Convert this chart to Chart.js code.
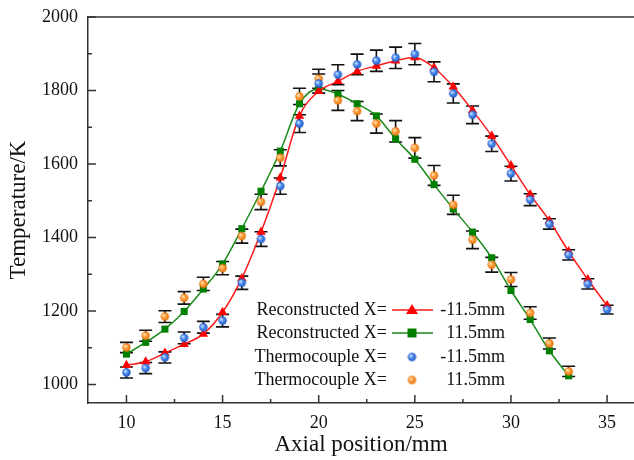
<!DOCTYPE html>
<html>
<head>
<meta charset="utf-8">
<script src="https://cdn.jsdelivr.net/npm/chart.js@4/dist/chart.umd.min.js"></script>
<style>
  html, body { margin: 0; padding: 0; background: #fff; }
  #wrap { width: 634px; height: 460px; }
</style>
</head>
<body>
<div id="wrap"><canvas id="c" width="634" height="460"></canvas></div>
<script>
// ---- data ----
const posMinus = [10,11,12,13,14,15,16,17,18,19,20,21,22,23,24,25,26,27,28,29,30,31,32,33,34,35];
const posPlus  = [10,11,12,13,14,15,16,17,18,19,20,21,22,23,24,25,26,27,28,29,30,31,32,33];
const reconMinus = [1053,1062,1086,1110,1138,1197,1289,1415,1563,1731,1798,1825,1852,1867,1881,1890,1862,1810,1746,1676,1596,1517,1446,1362,1286,1215];
const reconPlus  = [1083,1115,1151,1199,1260,1328,1424,1526,1635,1764,1805,1790,1764,1731,1669,1613,1544,1478,1415,1345,1256,1177,1092,1024];
const thermoMinus = [1033,1045,1074,1127,1156,1174,1277,1396,1540,1710,1819,1843,1871,1881,1889,1899,1851,1792,1734,1655,1574,1503,1437,1353,1274,1204];
const thermoPlus  = [1101,1133,1185,1236,1274,1317,1404,1497,1617,1784,1832,1773,1744,1710,1689,1644,1569,1489,1394,1326,1286,1195,1112,1036];
const errMinus = [15,15,15,16,16,17,18,20,22,24,26,27,28,29,29,29,27,26,24,21,20,16,14,14,14,12];
const errPlus  = [14,15,16,17,18,18,19,21,22,22,26,27,26,26,29,28,27,26,24,20,19,17,15,14];
const xMajorTicks = [10,15,20,25,30,35];
const xMinorTicks = [12.5,17.5,22.5,27.5,32.5];
const yMajorTicks = [1000,1200,1400,1600,1800,2000];
const yMinorTicks = [1100,1300,1500,1700,1900];
const legendNames = ['Reconstructed X=','Reconstructed X=','Thermocouple X=','Thermocouple X='];
const legendValues = ['-11.5mm','11.5mm','-11.5mm','11.5mm'];
const xTitle = 'Axial position/mm';
const yTitle = 'Temperature/K';

const FONT = '"Liberation Serif", "Times New Roman", serif';

function sphere(light, mid, dark, r) {
  const c = document.createElement('canvas');
  const s = Math.ceil(r * 2) + 2;
  c.width = s; c.height = s;
  const g = c.getContext('2d');
  const cx = s / 2, cy = s / 2;
  const grad = g.createRadialGradient(cx - r * 0.35, cy - r * 0.35, r * 0.1, cx, cy, r);
  grad.addColorStop(0, light);
  grad.addColorStop(0.45, mid);
  grad.addColorStop(1, dark);
  g.fillStyle = grad;
  g.beginPath(); g.arc(cx, cy, r, 0, Math.PI * 2); g.fill();
  return c;
}
const blueBall = sphere('#cfe3ff', '#4d8ef0', '#1f55c0', 4.2);
const orangeBall = sphere('#ffe3bf', '#ff9f3a', '#e0700a', 4.2);

const toPts = (xs, ys) => xs.map((x, i) => ({ x: x, y: ys[i] }));

const errorBars = {
  id: 'errorBars',
  beforeDatasetsDraw(chart) {
    const { ctx, scales: { x, y } } = chart;
    ctx.save();
    ctx.strokeStyle = '#111';
    ctx.lineWidth = 1.6;
    const draw = (xs, ys, es) => {
      xs.forEach((xv, i) => {
        const px = x.getPixelForValue(xv);
        const top = y.getPixelForValue(ys[i] + es[i]);
        const bot = y.getPixelForValue(ys[i] - es[i]);
        ctx.beginPath();
        ctx.moveTo(px, top); ctx.lineTo(px, bot);
        ctx.moveTo(px - 6.5, top); ctx.lineTo(px + 6.5, top);
        ctx.moveTo(px - 6.5, bot); ctx.lineTo(px + 6.5, bot);
        ctx.stroke();
      });
    };
    draw(posMinus, thermoMinus, errMinus);
    draw(posPlus, thermoPlus, errPlus);
    ctx.restore();
  }
};

const frame = {
  id: 'frame',
  afterDraw(chart) {
    const { ctx, chartArea: a, scales: { x, y } } = chart;
    ctx.save();
    ctx.strokeStyle = '#333';
    ctx.lineWidth = 1.5;
    ctx.beginPath();
    ctx.moveTo(a.left, a.top); ctx.lineTo(a.right, a.top);
    ctx.stroke();
    ctx.beginPath();
    xMajorTicks.forEach(v => { const p = x.getPixelForValue(v); ctx.moveTo(p, a.bottom); ctx.lineTo(p, a.bottom - 8); });
    xMinorTicks.forEach(v => { const p = x.getPixelForValue(v); ctx.moveTo(p, a.bottom); ctx.lineTo(p, a.bottom - 4); });
    yMajorTicks.forEach(v => { const p = y.getPixelForValue(v); ctx.moveTo(a.left, p); ctx.lineTo(a.left + 8, p); });
    yMinorTicks.forEach(v => { const p = y.getPixelForValue(v); ctx.moveTo(a.left, p); ctx.lineTo(a.left + 4, p); });
    ctx.stroke();

    // legend
    const rows = [310, 333, 357, 380];
    ctx.font = '18px ' + FONT;
    ctx.fillStyle = '#111';
    ctx.textBaseline = 'middle';
    rows.forEach((ry, i) => {
      ctx.textAlign = 'right';
      ctx.fillText(legendNames[i], 387, ry);
      ctx.fillText(legendValues[i], 505, ry);
      if (i < 2) {
        ctx.strokeStyle = i === 0 ? '#ff1a1a' : '#1a8a1a';
        ctx.lineWidth = 1.5;
        ctx.beginPath(); ctx.moveTo(392, ry); ctx.lineTo(433, ry); ctx.stroke();
        ctx.fillStyle = i === 0 ? '#ff0000' : '#008000';
        ctx.beginPath();
        if (i === 0) {
          ctx.moveTo(412, ry - 6); ctx.lineTo(418, ry + 4); ctx.lineTo(406, ry + 4); ctx.closePath();
        } else {
          ctx.rect(407.5, ry - 4.5, 9, 9);
        }
        ctx.fill();
        ctx.fillStyle = '#111';
      } else {
        const img = i === 2 ? blueBall : orangeBall;
        ctx.drawImage(img, 412 - img.width / 2, ry - img.height / 2);
      }
    });
    ctx.restore();
  }
};

new Chart(document.getElementById('c'), {
  type: 'line',
  data: {
    datasets: [
      {
        label: 'Reconstructed X= -11.5mm',
        data: toPts(posMinus, reconMinus),
        borderColor: '#ff1a1a', backgroundColor: '#ff0000',
        borderWidth: 1.5, pointStyle: 'triangle', pointRadius: 5.5, pointBorderWidth: 0,
        cubicInterpolationMode: 'monotone', order: 2
      },
      {
        label: 'Reconstructed X= 11.5mm',
        data: toPts(posPlus, reconPlus),
        borderColor: '#1a8a1a', backgroundColor: '#008000',
        borderWidth: 1.5, pointStyle: 'rect', pointRadius: 5, pointBorderWidth: 0,
        cubicInterpolationMode: 'monotone', order: 3
      },
      {
        label: 'Thermocouple X= -11.5mm',
        data: toPts(posMinus, thermoMinus),
        showLine: false, pointStyle: blueBall, pointRadius: 4, order: 1
      },
      {
        label: 'Thermocouple X= 11.5mm',
        data: toPts(posPlus, thermoPlus),
        showLine: false, pointStyle: orangeBall, pointRadius: 4, order: 1
      }
    ]
  },
  options: {
    responsive: false,
    animation: false,
    devicePixelRatio: 1,
    layout: { autoPadding: false, padding: { top: 17, right: 0, left: 0, bottom: 0 } },
    plugins: { legend: { display: false }, tooltip: { enabled: false } },
    scales: {
      x: {
        type: 'linear', min: 8, max: 36.4,
        afterBuildTicks: s => { s.ticks = xMajorTicks.map(v => ({ value: v })); },
        afterFit: s => { s.height = 57; s.paddingLeft = 0; s.paddingRight = 0; },
        grid: { drawOnChartArea: false, drawTicks: false },
        border: { display: true, color: '#333', width: 1.5 },
        ticks: { color: '#111', padding: 9, font: { family: FONT, size: 18 }, maxRotation: 0, callback: v => String(v) },
        title: { display: true, text: xTitle, color: '#111', font: { family: FONT, size: 23 }, padding: { top: 0, bottom: 1 } }
      },
      y: {
        type: 'linear', min: 950, max: 2000,
        afterBuildTicks: s => { s.ticks = yMajorTicks.map(v => ({ value: v })); },
        afterFit: s => { s.width = 88; s.paddingTop = 0; s.paddingBottom = 0; },
        grid: { drawOnChartArea: false, drawTicks: false },
        border: { display: true, color: '#333', width: 1.5 },
        ticks: { color: '#111', padding: 10, font: { family: FONT, size: 18 }, callback: v => String(v) },
        title: { display: true, text: yTitle, color: '#111', font: { family: FONT, size: 23 }, padding: { top: 5, bottom: 0 } }
      }
    }
  },
  plugins: [errorBars, frame]
});
</script>
</body>
</html>
